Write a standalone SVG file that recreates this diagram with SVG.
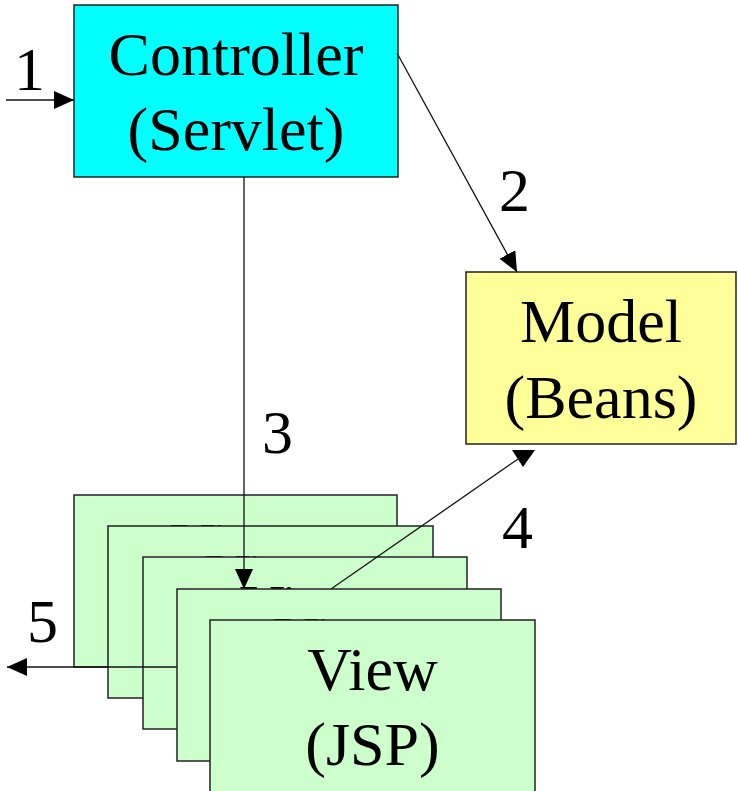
<svg xmlns="http://www.w3.org/2000/svg" width="738" height="791" viewBox="0 0 738 791">
<style>
.box{stroke:#222;stroke-width:1.5}
.t{font-family:"Liberation Serif","Times New Roman",serif;font-size:62px;fill:#000;text-anchor:middle}
.n{font-family:"Liberation Serif","Times New Roman",serif;font-size:62px;fill:#000}
.c{stroke:#111;stroke-width:1.3;fill:none}
.view{fill:#CCFFCC}
</style>
<defs>
<marker id="ah" markerUnits="userSpaceOnUse" markerWidth="22" markerHeight="20" refX="20" refY="9" orient="auto">
<path d="M0,0 L20,9 L0,18 Z" fill="#000"/>
</marker>
</defs>
<rect width="738" height="791" fill="#fff"/>
<g id="controller">
<rect class="box" x="74" y="5" width="324" height="172" fill="#00FFFF"/>
<text class="t" x="236" y="75">Controller</text>
<text class="t" x="236" y="150">(Servlet)</text>
</g>
<g id="model">
<rect class="box" x="466" y="272" width="270" height="172" fill="#FFFF99"/>
<text class="t" x="601" y="342">Model</text>
<text class="t" x="601" y="418">(Beans)</text>
</g>
<g id="view1">
<rect class="box view" x="74" y="495" width="323" height="172"/>
<text class="t" x="235.5" y="565">View</text>
</g>
<g id="view2">
<rect class="box view" x="108" y="526" width="325" height="172"/>
<text class="t" x="270.5" y="596">View</text>
</g>
<g id="view3">
<rect class="box view" x="143" y="557" width="324" height="172"/>
<text class="t" x="305" y="627">View</text>
</g>
<g id="connectors">
<line class="c" x1="6" y1="100" x2="74" y2="100" marker-end="url(#ah)"/>
<line class="c" x1="397" y1="53" x2="517" y2="272" marker-end="url(#ah)"/>
<line class="c" x1="244" y1="177" x2="244" y2="589" marker-end="url(#ah)"/>
<line class="c" x1="331" y1="589" x2="518" y2="459"/>
<polygon points="512,450 535,450 523,467" fill="#000"/>
<line class="c" x1="177" y1="667" x2="7" y2="667" marker-end="url(#ah)"/>
<text class="n" x="14" y="90">1</text>
<text class="n" x="499" y="211">2</text>
<text class="n" x="262" y="453">3</text>
<text class="n" x="502" y="548">4</text>
<text class="n" x="27" y="642">5</text>
</g>
<g id="view4">
<rect class="box view" x="177" y="589" width="324" height="172"/>
<text class="t" x="339" y="659">View</text>
</g>
<g id="view5">
<rect class="box view" x="210" y="620" width="325" height="172"/>
<text class="t" x="372.5" y="690">View</text>
<text class="t" x="372.5" y="765">(JSP)</text>
</g>
</svg>
